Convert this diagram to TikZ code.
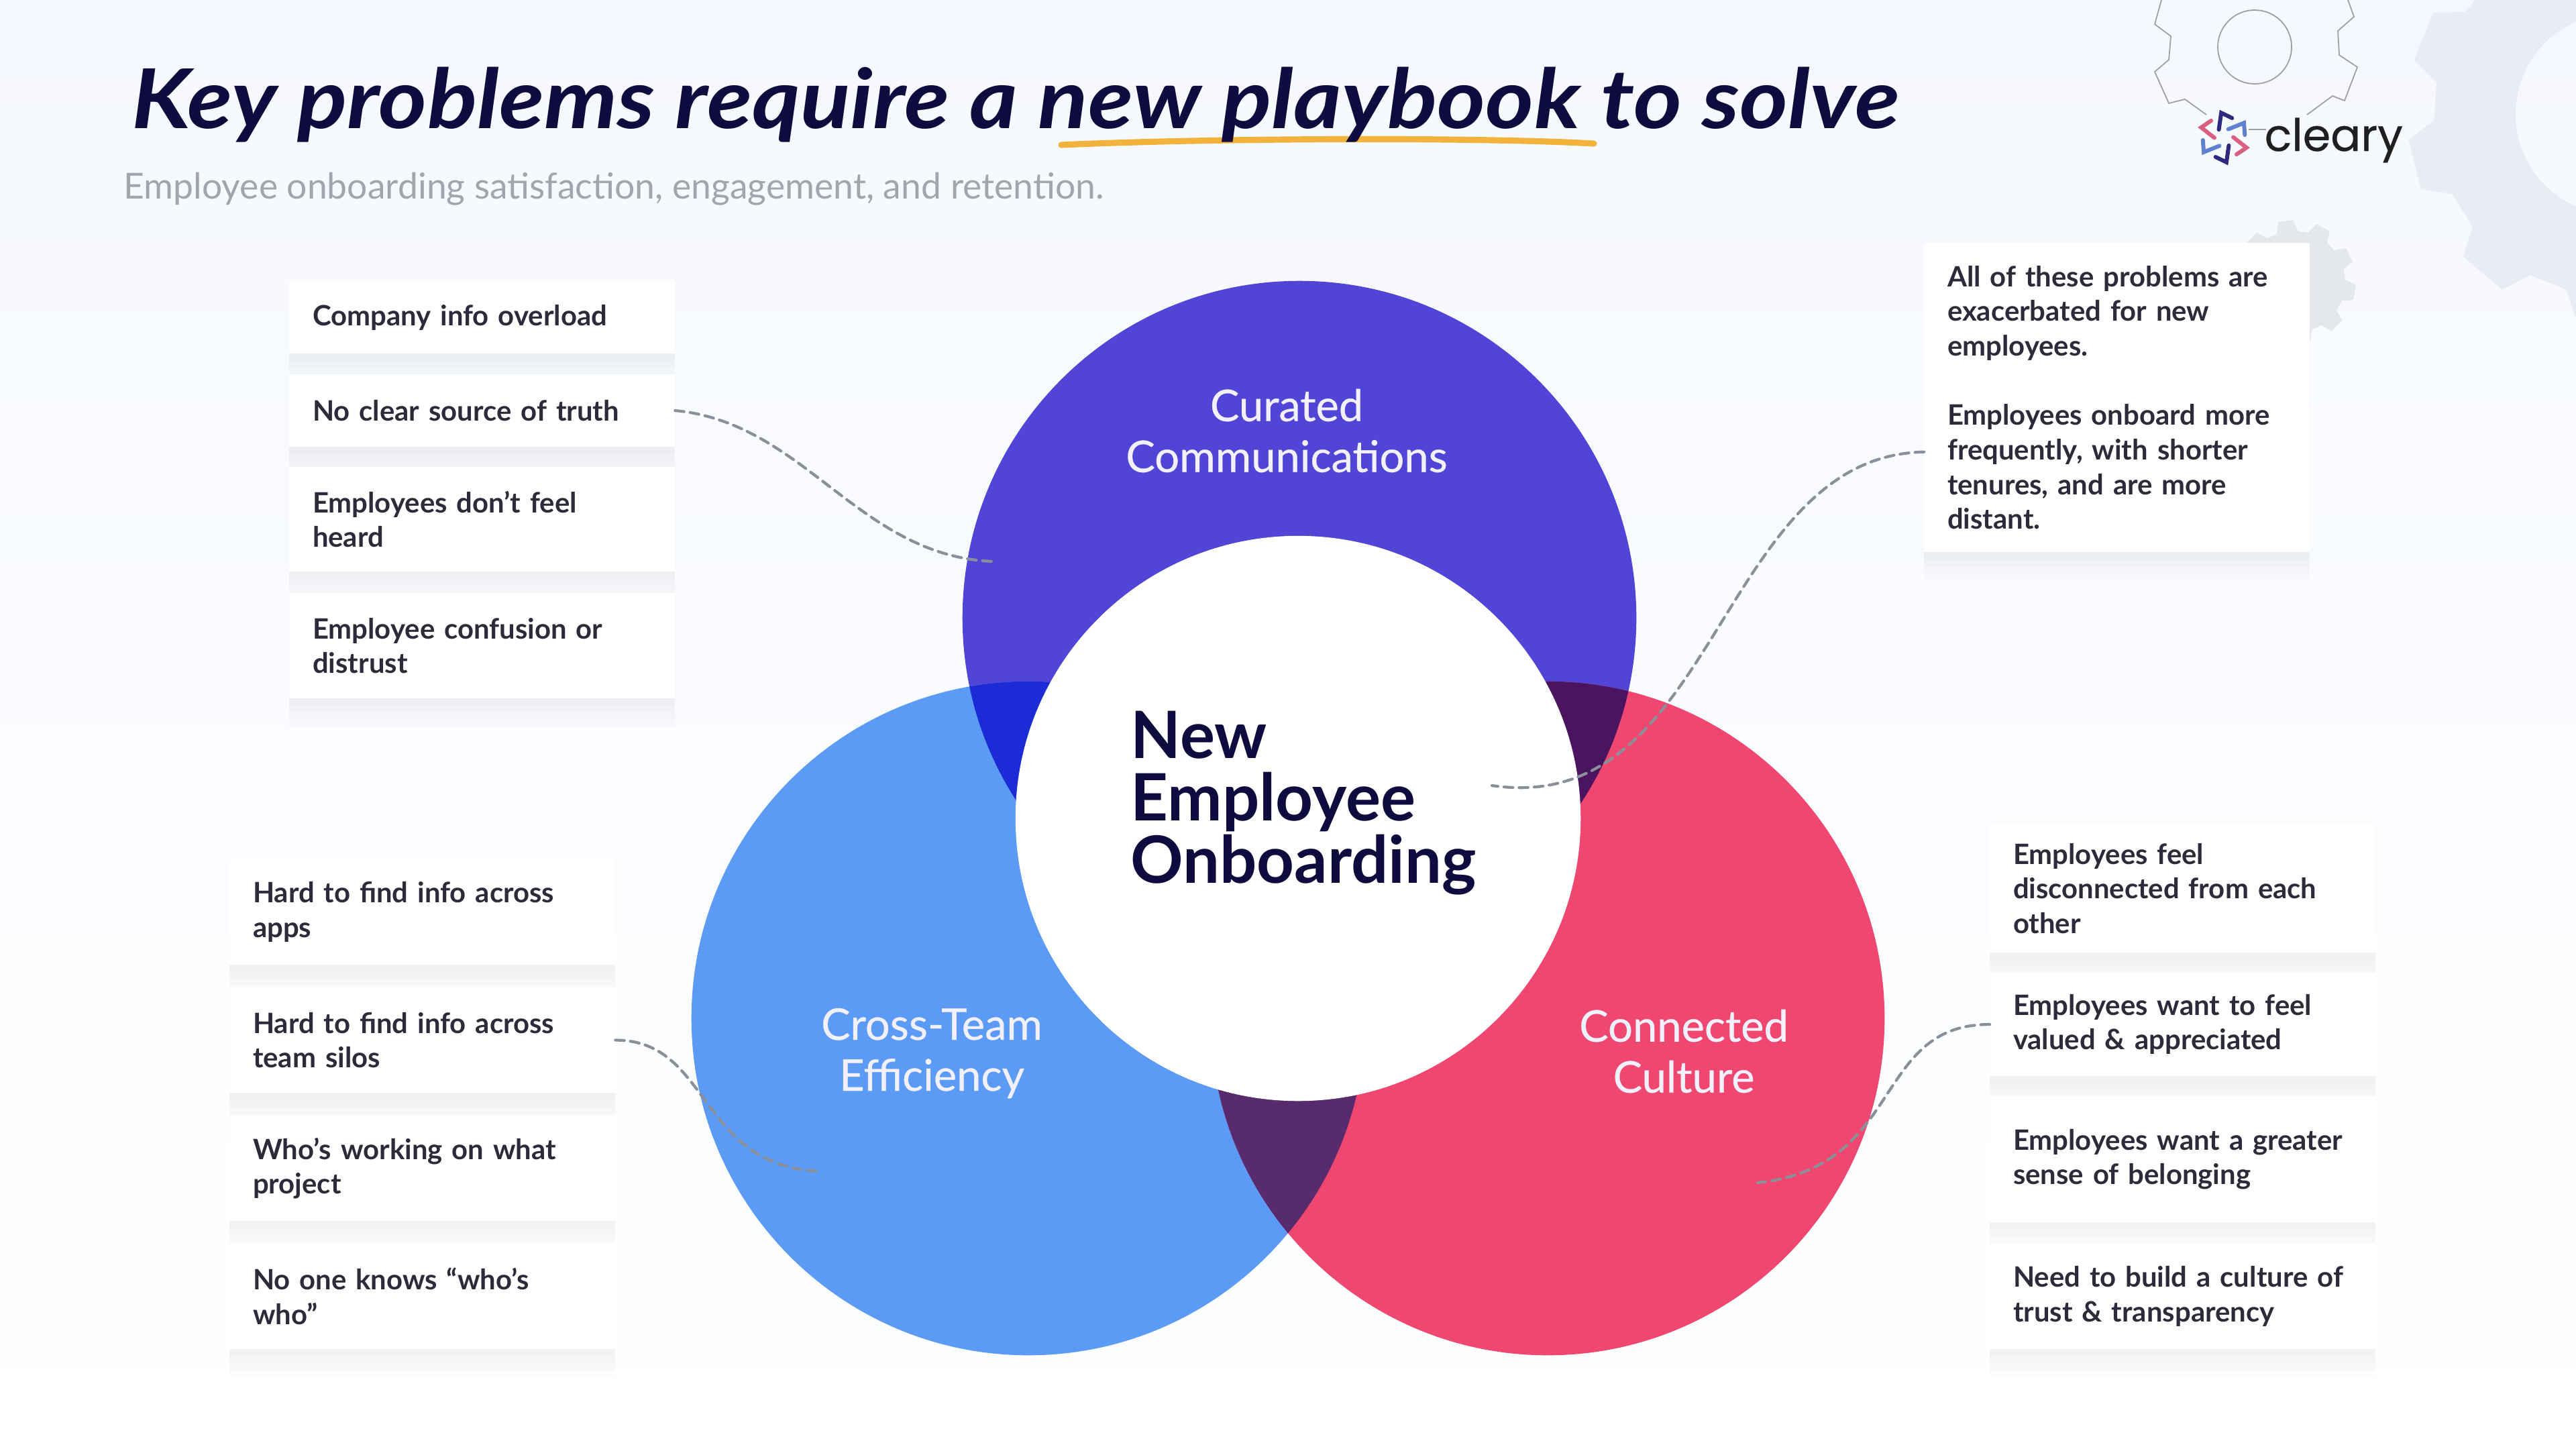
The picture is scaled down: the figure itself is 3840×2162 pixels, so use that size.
\documentclass[tikz,border=0pt]{standalone}
\usepackage{fontspec}
\setmainfont{Lato}
\newfontfamily\logofont[FakeBold=0.4]{Poppins}
\newfontfamily\headfont[FakeStretch=1.12]{Lato}
\newfontfamily\vennfont[FakeBold=0.5]{Lato}
\usetikzlibrary{positioning}

\definecolor{bgtop}{HTML}{F5F8FE}
\definecolor{bgbot}{HTML}{FEFFFF}
\definecolor{inkblue}{HTML}{100B3E}
\definecolor{subgray}{HTML}{A2A4AE}
\definecolor{noteink}{HTML}{2C2B3A}
\definecolor{dashgray}{HTML}{8B8F99}
\definecolor{topblue}{HTML}{5145D8}
\definecolor{leftblue}{HTML}{5B9BF5}
\definecolor{rightred}{HTML}{EF476F}
\definecolor{topleft}{HTML}{1C2BD6}
\definecolor{topright}{HTML}{4B1460}
\definecolor{leftright}{HTML}{582B6E}
\definecolor{gearfill}{HTML}{E9ECF5}
\definecolor{gearsmall}{HTML}{E4E7EC}
\definecolor{underl}{HTML}{F2B33D}
\definecolor{logonavy}{HTML}{2E2A7E}
\definecolor{logoblue}{HTML}{5E82CF}
\definecolor{logored}{HTML}{D9607F}

\newcommand{\gearshape}[4]{%
  (#1:#2) \foreach \k in {0,...,9} {
    -- (#1+\k*36-12:#2) -- (#1+\k*36-7:#3) -- (#1+\k*36+7:#3) -- (#1+\k*36+12:#2) -- (#1+\k*36+24:#2)
  } -- cycle #4}

\begin{document}
\begin{tikzpicture}[
    x=0.01cm, y=-0.01cm,
    soft-layer/.style={preaction={fill=black!80!blue, fill opacity=.012, transform canvas={yshift=-#1}}},
    note-box/.style={rectangle, fill=white, anchor=north west, text width=5.05cm, inner xsep=.35cm, inner ysep=0pt, outer sep=0pt, align=left, text=noteink, font=\fontsize{11.9}{14.7}\selectfont\bfseries, soft-layer=12pt, soft-layer=9pt, soft-layer=6pt, soft-layer=3pt},
    venn-label/.style={align=center, text=white!92!topblue, font=\fontsize{18.5}{21.6}\selectfont\vennfont},
    dash-link/.style={draw=dashgray, line width=1.2pt, dash pattern=on 3.8pt off 2.6pt, line cap=round},
    logo-arm/.style={line width=1.7pt, line join=miter, line cap=round}
  ]

  \useasboundingbox (0,0) rectangle (3840,2162);
  \shade[top color=bgtop, middle color=bgtop, bottom color=bgbot] (0,0) rectangle (3840,2162);

  \begin{scope}[shift={(3900,170)}]
    \fill[gearfill, even odd rule] \gearshape{166}{272}{312}{} (0,0) circle[radius=1.5cm];
  \end{scope}
  \begin{scope}[shift={(3420,420)}]
    \fill[gearsmall] \gearshape{10}{76}{92}{};
  \end{scope}
  \draw[gray!75, line width=.5pt] (3222,0) -- (3212,36) -- (3236,54) -- (3233,89) -- (3212,107) -- (3233,154) -- (3257,148) -- (3289,171);
  \draw[gray!75, line width=.5pt] (3500,0) -- (3509,25) -- (3485,46) -- (3487,82) -- (3514,100) -- (3495,150) -- (3477,143) -- (3439,171);
  \draw[gray!75, line width=.5pt] (3361,70) circle[radius=.55cm];
  \draw[gray!75, line width=.5pt] (3352,193) -- (3378,193);

  \draw[underl, line width=2.6pt, line cap=round] (1582,216) .. controls (1800,206) and (2200,204) .. (2376,214);
  \node[anchor=base west, inner sep=0pt, text=inkblue, font=\fontsize{35}{40}\selectfont\headfont\bfseries\itshape] (headline) at (196,191) {Key problems require a new playbook to solve};
  \node[anchor=base west, inner sep=0pt, text=subgray, font=\fontsize{15.2}{18}\selectfont] (subline) at (184,296) {Employee onboarding satisfaction, engagement, and retention.};

  \begin{scope}[shift={(3315,205)}]
    \foreach \a/\c in {-90/logonavy, -30/logoblue, 30/logored, 90/logonavy, 150/logoblue, 210/logored} {
      \draw[logo-arm, draw=\c] (\a-32:14) -- (\a-6:37) -- (\a+23:31.5);
    }
  \end{scope}
  \node[anchor=base west, inner sep=0pt, text=black!88, font=\fontsize{19}{22}\selectfont\logofont] (brand) at (3375,225) {cleary};

  \coordinate (topc) at (1937,921);
  \coordinate (leftc) at (1533,1518);
  \coordinate (rightc) at (2307,1518);

  \fill[topblue] (topc) circle[radius=5.02cm];
  \fill[leftblue] (leftc) circle[radius=5.02cm];
  \fill[rightred] (rightc) circle[radius=5.02cm];
  \begin{scope}
    \clip (topc) circle[radius=5.02cm];
    \fill[topleft] (leftc) circle[radius=5.02cm];
    \fill[topright] (rightc) circle[radius=5.02cm];
  \end{scope}
  \begin{scope}
    \clip (leftc) circle[radius=5.02cm];
    \fill[leftright] (rightc) circle[radius=5.02cm];
  \end{scope}
  \fill[white] (1935,1220) circle[radius=4.21cm];

  \node[venn-label] (curated) at (1918,642) {Curated\\Communications};
  \node[venn-label] (crossteam) at (1389,1570) {Cross-Team\\Efficiency};
  \node[venn-label] (connected) at (2510,1567) {Connected\\Culture};
  \node[anchor=west, inner sep=0pt, align=left, text=inkblue, font=\fontsize{27.7}{26.5}\selectfont\bfseries] (onboarding) at (1685,1197) {New\\Employee\\Onboarding};

  \node[note-box, minimum height=1.08cm] (overload) at (431,419) {Company info overload};
  \node[note-box, minimum height=1.08cm] (truth) at (431,558) {No clear source of truth};
  \node[note-box, minimum height=1.56cm] (heard) at (431,696) {Employees don't feel\\heard};
  \node[note-box, minimum height=1.57cm] (distrust) at (431,884) {Employee confusion or\\distrust};

  \node[note-box, minimum height=1.57cm] (acrossapps) at (342,1281) {Hard to find info across\\apps};
  \node[note-box, minimum height=1.57cm] (acrosssilos) at (342,1472) {Hard to find info across\\team silos};
  \node[note-box, minimum height=1.57cm] (project) at (342,1663) {Who's working on what\\project};
  \node[note-box, minimum height=1.57cm] (whoswho) at (342,1854) {No one knows “who's\\who”};

  \node[note-box, minimum height=1.91cm] (disconnected) at (2966,1229) {Employees feel\\disconnected from each\\other};
  \node[note-box, minimum height=1.54cm] (valued) at (2966,1450) {Employees want to feel\\valued \& appreciated};
  \node[note-box, minimum height=1.88cm] (belonging) at (2966,1634) {Employees want a greater\\sense of belonging};
  \node[note-box, minimum height=1.57cm] (trust) at (2966,1854) {Need to build a culture of\\trust \& transparency};

  \node[note-box, minimum height=4.61cm] (exacerbated) at (2868,362) {All of these problems are\\exacerbated for new\\employees.\\[14.7pt]Employees onboard more\\frequently, with shorter\\tenures, and are more\\distant.};

  \coordinate (truthend) at (1482,837);
  \coordinate (centerend) at (2224,1171);
  \coordinate (silosend) at (1224,1746);
  \coordinate (valuedend) at (2620,1763);

  \draw[dash-link] (truth.east) .. controls (1200,630) and (1280,830) .. (truthend);
  \draw[dash-link] ([yshift=-.81cm]exacerbated.west) .. controls (2560,680) and (2560,1220) .. (centerend);
  \draw[dash-link] (acrosssilos.east) .. controls (1060,1550) and (1040,1740) .. (silosend);
  \draw[dash-link] (valued.west) .. controls (2790,1527) and (2840,1740) .. (valuedend);

\end{tikzpicture}
\end{document}
